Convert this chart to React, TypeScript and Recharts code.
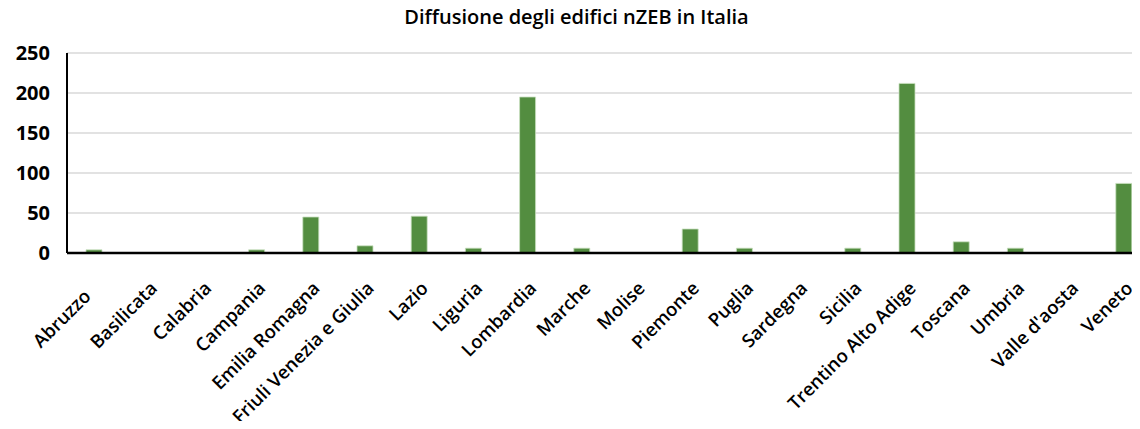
import React from "react";
import { BarChart, Bar, XAxis, YAxis, CartesianGrid } from "recharts";

const categories = [
  "Abruzzo", "Basilicata", "Calabria", "Campania", "Emilia Romagna",
  "Friuli Venezia e Giulia", "Lazio", "Liguria", "Lombardia", "Marche",
  "Molise", "Piemonte", "Puglia", "Sardegna", "Sicilia",
  "Trentino Alto Adige", "Toscana", "Umbria", "Valle d'aosta", "Veneto",
];
const values = [4, 0, 0, 4, 45, 9, 46, 6, 195, 6, 0, 30, 6, 0, 6, 212, 14, 6, 0, 87];
const yTicks = [0, 50, 100, 150, 200, 250];
const title = "Diffusione degli edifici nZEB in Italia";

const data = categories.map((c, i) => ({ name: c, value: values[i] }));

const FONT = "'Open Sans', Lato, sans-serif";

const XTick = (props: any) => {
  const { x, y, payload, index } = props;
  const ox = index === 0 ? -9 : 3;
  const oy = index === 0 ? 29.5 : 21.5;
  return (
    <g transform={`translate(${x + ox},${y + oy})`}>
      <text
        x={0}
        y={0}
        dy="0.535em"
        textAnchor="end"
        transform="rotate(-45)"
        fontFamily={FONT}
        fontWeight={600}
        fontSize={18.5}
        fill="#000"
      >
        {payload.value}
      </text>
    </g>
  );
};

export default function App() {
  return (
    <div style={{ margin: -8, width: 1140, height: 429, overflow: "hidden", position: "relative", background: "#fff" }}>
      <div
        style={{
          position: "absolute",
          left: 0,
          top: 3,
          width: 1153,
          textAlign: "center",
          fontFamily: FONT,
          fontWeight: 600,
          fontSize: 20,
          lineHeight: "normal",
          color: "#000",
        }}
      >
        {title}
      </div>
      <BarChart
        width={1160}
        height={429}
        data={data}
        margin={{ top: 53, right: 9, left: 0, bottom: 0 }}
        barSize={16}
      >
        <CartesianGrid horizontal vertical={false} stroke="#d9d9d9" strokeWidth={1.5} />
        <XAxis
          dataKey="name"
          interval={0}
          height={176}
          axisLine={{ stroke: "#000", strokeWidth: 2.5 }}
          tickLine={false}
          tick={<XTick />}
        />
        <YAxis
          width={67}
          domain={[0, 250]}
          ticks={yTicks}
          interval={0}
          axisLine={{ stroke: "#000", strokeWidth: 2 }}
          tickLine={false}
          tickMargin={11}
          tick={{ fontFamily: FONT, fontWeight: 700, fontSize: 20, fill: "#000" }}
        />
        <Bar dataKey="value" fill="#538d40" stroke="#c9dfc0" strokeWidth={0.8} isAnimationActive={false} />
      </BarChart>
    </div>
  );
}
